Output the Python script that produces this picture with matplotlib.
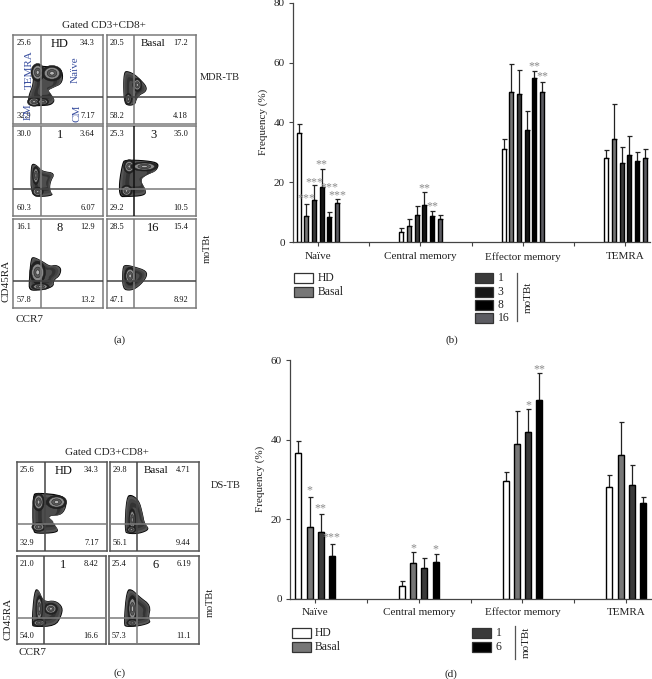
# -*- coding: utf-8 -*-
import numpy as np
import matplotlib
matplotlib.use('Agg')
import matplotlib.pyplot as plt
from matplotlib.patches import Polygon, Ellipse, Rectangle

plt.rcParams['font.family'] = ['Liberation Serif', 'DejaVu Serif']

W, H = 652, 679
categories = ['Naïve', 'Central memory', 'Effector memory', 'TEMRA']

# panel b: HD, Basal, 1, 3, 8, 16
b_means = [[36.6, 8.8, 13.9, 18.5, 8.3, 13.0],
           [3.2, 5.4, 9.1, 12.3, 8.7, 7.8],
           [31.0, 50.3, 49.4, 37.4, 54.7, 50.0],
           [28.1, 34.3, 26.5, 29.0, 27.2, 28.0]]
b_tops = [[39.5, 12.7, 19.0, 24.5, 9.9, 14.3],
          [4.6, 7.6, 12.0, 16.7, 10.2, 8.9],
          [34.5, 59.4, 57.5, 43.8, 57.0, 53.5],
          [30.9, 46.0, 31.8, 35.3, 30.0, 31.0]]
b_colors = ['white', '#777777', '#3a3a3a', '#161616', '#000000', '#5c5c62']
b_stars = [(0, 1, 15.0, '***'), (0, 2, 20.2, '***'), (0, 3, 26.3, '**'),
           (0, 4, 18.7, '***'), (0, 5, 16.0, '***'), (1, 3, 18.5, '**'),
           (1, 4, 12.2, '**'), (2, 4, 59.0, '**'), (2, 5, 55.8, '**')]

# panel d: HD, Basal, 1, 6
d_means = [[36.7, 18.0, 16.8, 10.8],
           [3.2, 9.0, 7.8, 9.1],
           [29.6, 38.8, 42.0, 50.0],
           [28.1, 36.1, 28.5, 24.0]]
d_tops = [[39.6, 25.5, 21.4, 13.7],
          [4.5, 11.8, 10.3, 11.2],
          [31.8, 47.2, 47.8, 56.7],
          [31.0, 44.3, 33.6, 25.5]]
d_colors = ['white', '#777777', '#3a3a3a', '#000000']
d_stars = [(0, 1, 27.6, '*'), (0, 2, 23.0, '**'), (0, 3, 15.8, '***'),
           (1, 1, 13.0, '*'), (1, 3, 12.6, '*'), (2, 2, 49.0, '*'),
           (2, 3, 58.0, '**')]

# flow plots: box in px, title, UL UR LL LR, outline, peaks, colour of vertical and horizontal gate
flow_a = [
    ((13.5, 35, 103, 124), 'HD', '25.6', '34.3', '32.9', '7.17',
     [(17, 20), (16, 31), (22, 45), (21, 62), (26, 66), (37, 65), (52, 64), (56, 55), (54, 45),
      (45, 41), (37, 37), (47, 28), (43, 21), (30, 20)],
     [(27, 58, 6, 8), (43, 57, 9, 7), (23, 25, 6, 4), (33, 25, 5, 3)], '#7a7a7a', '#444444'),
    ((107, 35, 196, 124), 'Basal', '20.5', '17.2', '58.2', '4.18',
     [(19, 23), (18, 45), (19, 58), (22, 60), (30, 57), (38, 50), (45, 42), (44, 36), (36, 32),
      (33, 27), (32, 22), (25, 20)],
     [(34, 44, 4, 6), (24, 28, 3, 5)], '#7a7a7a', '#444444'),
    ((13.5, 126, 103, 216), '1', '30.0', '3.64', '60.3', '6.07',
     [(19, 22), (19, 55), (22, 59), (28, 55), (32, 50), (47, 48), (41, 37), (41, 27), (45, 23),
      (34, 21)],
     [(25, 45, 3, 8), (27, 27, 5, 4)], '#7a7a7a', '#444444'),
    ((107, 126, 196, 216), '3', '25.3', '35.0', '29.2', '10.5',
     [(14, 21), (13, 36), (17, 59), (20, 63), (45, 62), (59, 59), (56, 50), (45, 46), (37, 40),
      (45, 27), (41, 22), (22, 21)],
     [(25, 55, 5, 6), (42, 55, 12, 4), (22, 28, 5, 5)], '#111111', '#7a7a7a'),
    ((13.5, 219, 103, 308), '8', '16.1', '12.9', '57.8', '13.2',
     [(17, 20), (17, 31), (19, 55), (22, 58), (32, 53), (41, 47), (47, 49), (54, 45), (52, 36),
      (45, 31), (45, 23), (26, 19)],
     [(27, 40, 7, 10), (30, 24, 8, 3)], '#7a7a7a', '#444444'),
    ((107, 219, 196, 308), '16', '28.5', '15.4', '47.1', '8.92',
     [(17, 21), (17, 45), (20, 49), (30, 47), (45, 42), (45, 34), (35, 23), (26, 19)],
     [(26, 36, 5, 8)], '#7a7a7a', '#444444'),
]
flow_c = [
    ((17, 462, 107, 551), 'HD', '25.6', '34.3', '32.9', '7.17',
     [(17, 22), (17, 63), (22, 66), (52, 63), (56, 52), (50, 40), (37, 40), (34, 35), (47, 24),
      (43, 20), (22, 19)],
     [(24, 55, 5, 8), (44, 55, 9, 6), (24, 27, 6, 4)], '#444444', '#7a7a7a'),
    ((110, 462, 199, 551), 'Basal', '29.8', '4.71', '56.1', '9.44',
     [(16, 22), (18, 61), (24, 64), (33, 57), (37, 42), (39, 31), (45, 24), (33, 19), (20, 19)],
     [(25, 35, 3, 10), (24, 24, 4, 3)], '#444444', '#7a7a7a'),
    ((17, 556, 106, 644), '1', '21.0', '8.42', '54.0', '16.6',
     [(16, 22), (19, 61), (24, 63), (30, 48), (43, 50), (52, 42), (50, 31), (43, 20), (19, 19)],
     [(25, 40, 3, 12), (38, 40, 6, 5), (25, 24, 6, 3)], '#444444', '#7a7a7a'),
    ((109, 556, 199, 644), '6', '25.4', '6.19', '57.3', '11.1',
     [(16, 22), (19, 61), (25, 63), (34, 54), (47, 44), (44, 29), (47, 24), (34, 20), (19, 19)],
     [(26, 40, 4, 12), (26, 24, 5, 3)], '#7a7a7a', '#7a7a7a'),
]
gate_x = 30.6
gate_y = 30


def smooth(points, n=2):
    pts = np.array(points, dtype=float)
    for i in range(n):
        nxt = np.roll(pts, -1, axis=0)
        pts = np.column_stack([0.75 * pts + 0.25 * nxt, 0.25 * pts + 0.75 * nxt]).reshape(-1, 2)
    return pts


def add_axes_px(x0, y0, x1, y1):
    return fig.add_axes([x0 / W, 1 - y1 / H, (x1 - x0) / W, (y1 - y0) / H])


def draw_flow(item, edge='#7a7a7a'):
    box, title, ul, ur, ll, lr, outline, peaks, vcol, hcol = item
    ax = add_axes_px(*box)
    ax.set_xlim(0, 100)
    ax.set_ylim(0, 100)
    ax.set_xticks([])
    ax.set_yticks([])
    for s in ax.spines.values():
        s.set_color(edge)
        s.set_linewidth(1.1)
    pts = smooth(outline)
    c = pts.mean(axis=0)
    levels = [(1.0, '#000000'), (0.95, '#555555'), (0.82, '#444444'), (0.66, '#333333'), (0.45, '#4d4d4d')]
    for scale, col in levels:
        ax.add_patch(Polygon(c + (pts - c) * scale, closed=True, fc=col, ec='none', zorder=2))
    for (px, py, rx, ry) in peaks:
        for scale, col in zip([1.25, 0.95, 0.6, 0.28], ['#222222', '#8a8a8a', '#5a5a5a', '#b5b5b5']):
            ax.add_patch(Ellipse((px, py), 2 * rx * scale, 2 * ry * scale, fc=col, ec='#1c1c1c',
                                 lw=0.35, zorder=3))
    ax.axvline(gate_x, color=vcol, lw=1.1, zorder=4)
    ax.axhline(gate_y, color=hcol, lw=1.1, zorder=4)
    ax.text(3, 91, ul, fontsize=6, va='center', color='#111111')
    ax.text(91, 91, ur, fontsize=6, va='center', ha='right', color='#111111')
    ax.text(3, 9, ll, fontsize=6, va='center', color='#111111')
    ax.text(91, 9, lr, fontsize=6, va='center', ha='right', color='#111111')
    ax.text(52, 90, title, fontsize=9 if title != 'Basal' else 8, ha='center', va='center',
            color='#111111')


def draw_bars(rect, means, tops, colors, stars, ymax, yticks, step, width, star_off, xpad):
    ax = add_axes_px(*rect)
    n = len(colors)
    for g in range(4):
        for j in range(n):
            x = g + (j - (n - 1) / 2) * step
            ax.bar(x, means[g][j], width, color=colors[j], edgecolor='black', linewidth=1.0, zorder=2)
            ax.errorbar(x, means[g][j], yerr=[[0], [tops[g][j] - means[g][j]]], color='#222222',
                        elinewidth=0.9, capsize=1.8, capthick=0.9, zorder=1)
    for (g, j, v, label) in stars:
        x = g + (j - (n - 1) / 2) * step
        ax.text(x, v + star_off, label, ha='center', va='center', fontsize=8.6, color='#8a8a8a', zorder=3)
    ax.set_xlim(-0.243, 3.24)
    ax.set_ylim(0, ymax)
    ax.set_yticks(yticks)
    ax.set_xticks(range(4))
    ax.set_xticklabels(categories)
    ax.set_xticks([0.5, 1.5, 2.5], minor=True)
    ax.tick_params(axis='both', which='both', length=3, width=0.8, color='#444444',
                   labelsize=8, labelcolor='#222222', pad=3)
    ax.tick_params(axis='x', pad=xpad)
    ax.set_ylabel('Frequency (%)', fontsize=8, color='#222222', labelpad=4)
    ax.patch.set_alpha(0)
    for s in ['top', 'right']:
        ax.spines[s].set_visible(False)
    for s in ['left', 'bottom']:
        ax.spines[s].set_color('#444444')
        ax.spines[s].set_linewidth(0.9)
    return ax


fig = plt.figure(figsize=(W / 100, H / 100), dpi=100)

for item in flow_a:
    draw_flow(item)
for item in flow_c:
    draw_flow(item, '#555555')

draw_bars((293, 2.7, 650, 242), b_means, b_tops, b_colors, b_stars, 80, [0, 20, 40, 60, 80], 0.075, 0.04, -0.4, 4.5)
draw_bars((290, 360, 651, 598.7), d_means, d_tops, d_colors, d_stars, 60, [0, 20, 40, 60], 0.1075, 0.058, -0.3, 3.5)

# overlay in pixel coordinates for legends and labels
ov = fig.add_axes([0, 0, 1, 1], zorder=10)
ov.set_xlim(0, W)
ov.set_ylim(H, 0)
ov.axis('off')


def txt(x, y, s, size=8, **kw):
    kw.setdefault('va', 'center')
    kw.setdefault('color', '#222222')
    ov.text(x, y, s, fontsize=size, **kw)


def swatch(x, y, col, label, tx, w=18.5, h=10):
    ov.add_patch(Rectangle((x, y), w, h, fc=col, ec='#333333', lw=0.9))
    txt(tx, y + h / 2, label, 8.4)


for (y, col, label) in [(273, b_colors[0], 'HD'), (287, b_colors[1], 'Basal')]:
    swatch(294, y, col, label, 317.5)
for (y, col, label) in [(273, b_colors[2], '1'), (287, b_colors[3], '3'),
                        (300, b_colors[4], '8'), (313, b_colors[5], '16')]:
    swatch(474.7, y, col, label, 497.7)
ov.plot([516.7, 516.7], [273, 320.7], color='#555555', lw=0.9)
txt(528, 297, 'moTBt', 8, rotation=90, ha='center')

for (y, col, label) in [(628, d_colors[0], 'HD'), (642, d_colors[1], 'Basal')]:
    swatch(292, y, col, label, 315)
for (y, col, label) in [(628, d_colors[2], '1'), (642, d_colors[3], '6')]:
    swatch(472, y, col, label, 495.7)
ov.plot([515, 515], [625.7, 659], color='#555555', lw=0.9)
txt(526.7, 642.7, 'moTBt', 8, rotation=90, ha='center')

txt(104, 26, 'Gated CD3+CD8+', 8, ha='center')
txt(107, 452.7, 'Gated CD3+CD8+', 8, ha='center')
txt(200, 77, 'MDR-TB', 7.5)
txt(207, 248, 'moTBt', 7.5, rotation=90, ha='center')
txt(211, 485, 'DS-TB', 7.5)
txt(210, 602, 'moTBt', 7.5, rotation=90, ha='center')
txt(6, 281, 'CD45RA', 8, rotation=90, ha='center')
txt(15, 319, 'CCR7', 8)
txt(8, 619, 'CD45RA', 8, rotation=90, ha='center')
txt(18.7, 652.7, 'CCR7', 8)

for (x, y, s) in [(29, 70, 'TEMRA'), (75, 70, 'Naïve'), (28, 112, 'EM'), (77, 113, 'CM')]:
    txt(x, y, s, 8, rotation=90, ha='center', color='#3a4f9f')

txt(120, 340, '(a)', 8, ha='center')
txt(452, 340, '(b)', 8, ha='center')
txt(120, 673, '(c)', 8, ha='center')
txt(451, 674, '(d)', 8, ha='center')

fig.savefig('out.png', dpi=100)
